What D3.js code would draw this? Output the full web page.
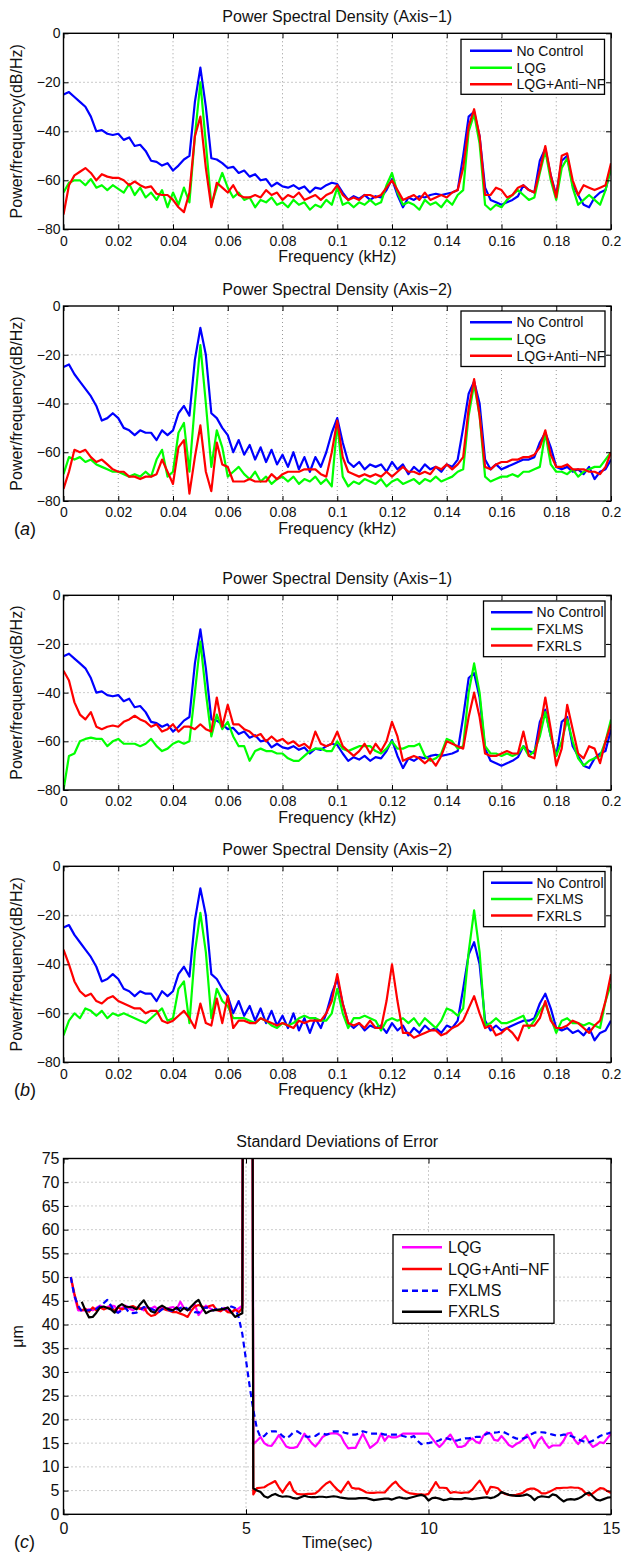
<!DOCTYPE html>
<html>
<head>
<meta charset="utf-8">
<script src="https://cdn.jsdelivr.net/npm/d3@7"></script>
<style>
  body { margin: 0; background: #fff; }
  svg { display: block; }
</style>
</head>
<body>
<svg id="fig" width="630" height="1555"></svg>
<script>
// ---------------------------------------------------------------
// Power spectral density estimates, dB/Hz, one value every 0.002 kHz
// from 0 to 0.2 kHz (101 bins)
// ---------------------------------------------------------------
const freqKHz = d3.range(0, 101).map(k => k * 0.002);

const noControlAxis1 = [
  -25, -24, -26, -28, -30, -34, -40, -39.5, -41, -41.5,
  -41, -43.5, -42.5, -46, -45.5, -48, -52, -52.5, -54, -53,
  -56, -54, -51.5, -50, -28, -14, -30, -51, -51.5, -53,
  -55, -54.5, -57, -56, -58.5, -57.5, -60, -59.5, -62.5, -61,
  -62.5, -63, -62, -63.5, -62.5, -65, -63, -63.5, -62, -61,
  -61.5, -65, -68, -66.5, -67.5, -66, -68, -66.5, -67, -64,
  -59.5, -66, -71, -67, -68, -66.5, -67, -66, -65.5, -66,
  -65.5, -65, -64, -50, -34, -32, -42, -63, -68, -69,
  -70, -69, -68, -66.5, -62, -64, -65, -52, -47, -58,
  -66, -52, -50, -62, -66, -70, -71, -67, -65, -64,
  -55
];
const lqgAxis1 = [
  -65, -61, -60, -60, -62, -59.5, -63, -62, -64, -62,
  -63.5, -65, -61.5, -66, -63, -67, -65, -68, -64, -71,
  -65, -70, -63, -69, -42, -20, -45, -70, -63, -57,
  -63, -67, -65, -68, -67, -71, -68, -69, -67, -70,
  -69, -71, -68, -70, -69, -72, -70, -71, -68, -70,
  -63, -70, -69, -71, -69, -70, -68, -70, -69, -62,
  -57, -65, -70, -69, -70, -72, -68, -70, -69, -71,
  -68, -70, -66, -64, -40, -33, -45, -70, -72, -70,
  -71, -68, -66, -64, -66, -68, -67, -57, -48, -60,
  -68, -55, -51, -63, -70, -68, -66, -68, -70, -64,
  -55
];
const lqgAntiNfAxis1 = [
  -74, -62, -58, -56.5, -55, -57, -60, -57.5, -58.5, -59,
  -59, -60, -62, -60.5, -62, -63, -62.5, -65.5, -66, -66,
  -68, -71, -73, -65, -42, -34, -55, -71, -61, -63,
  -65, -62, -66, -67, -67, -66, -67, -64, -66, -65,
  -68, -66, -67, -65, -68, -67, -66, -68, -66, -65,
  -62, -66, -68, -67, -68, -66, -66, -67, -66, -63,
  -60, -64, -68, -67, -66, -68, -65, -68, -67, -66,
  -67, -65, -64, -55, -38, -31, -42, -66, -66, -63,
  -64, -67, -66, -63, -62, -64, -65, -56, -46, -58,
  -67, -50, -49, -60, -66, -62, -63, -64, -63, -62,
  -53
];
const noControlAxis2 = [
  -25, -24, -28, -31, -34, -37, -41, -47, -46, -44,
  -46, -50, -51, -53, -51, -52, -52, -55, -51, -53,
  -51, -44, -41, -45, -22, -9, -20, -44, -46, -50,
  -53, -60, -55, -61, -57, -63, -58, -64, -59, -65,
  -61, -66, -60, -67, -62, -68, -62, -66, -60, -52,
  -46, -56, -64, -66, -64, -67, -65, -66, -65, -68,
  -64, -67, -65, -69, -66, -68, -65, -67, -66, -68,
  -65, -66, -63, -50, -36, -31, -40, -63, -67, -65,
  -67, -66, -65, -64, -63, -63, -62, -56, -52, -58,
  -66, -67, -66, -68, -67, -69, -66, -71, -68, -67,
  -63
];
const lqgAxis2 = [
  -69, -62, -63, -62, -64, -63, -65, -66, -67, -68,
  -68, -69, -70, -69, -70, -68, -70, -63, -59, -70,
  -68, -52, -48, -68, -40, -16, -40, -66, -51, -58,
  -70, -68, -66, -69, -71, -68, -72, -70, -73, -71,
  -70, -72, -70, -73, -71, -72, -70, -73, -71, -74,
  -48, -70, -74, -72, -73, -71, -72, -73, -71, -74,
  -72, -71, -73, -72, -71, -73, -71, -72, -70, -72,
  -71, -70, -68, -67, -45, -32, -45, -70, -72, -71,
  -70, -70, -69, -70, -68, -68, -67, -66, -52, -65,
  -68, -68, -69, -67, -70, -68, -67, -66, -66, -63,
  -60
];
const lqgAntiNfAxis2 = [
  -75, -68, -59, -60, -59, -62, -64, -63, -65, -67,
  -68, -68, -70, -70, -71, -70, -70, -69, -63, -68,
  -73, -58, -55, -77, -62, -49, -68, -76, -56, -65,
  -66, -72, -72, -72, -71, -72, -72, -72, -69, -71,
  -69, -68, -68, -68, -67, -67, -67, -69, -70, -60,
  -47, -62, -68, -69, -70, -69, -70, -69, -70, -68,
  -70, -68, -66, -68, -68, -69, -68, -69, -66, -67,
  -65, -67, -65, -62, -42, -30, -45, -66, -67, -65,
  -64, -64, -63, -63, -62, -62, -61, -58, -51, -61,
  -66, -66, -65, -67, -67, -67, -68, -68, -69, -66,
  -60
];
const fxlmsAxis1 = [
  -80, -66, -65, -60, -59, -58.5, -59, -59, -62, -60,
  -59, -61, -61, -61, -62, -61, -59, -62, -64, -63,
  -61, -60, -61, -60, -40, -19, -40, -58, -49, -55,
  -52, -58, -62, -62, -68, -64, -63, -64, -64, -65,
  -65, -67, -68, -68, -66, -64, -63, -63, -64, -64,
  -60, -63, -64, -63, -62, -62, -62, -64, -65, -63,
  -60, -63, -63, -62, -62, -61, -66, -68, -67, -65,
  -59, -60, -63, -62, -40, -28, -40, -62, -65, -65,
  -66, -65, -66, -65, -62, -66, -64, -58, -48, -58,
  -66, -60, -51, -60, -67, -70, -68, -67, -66, -60,
  -51
];
const fxrlsAxis1 = [
  -31, -35, -44, -49, -51, -48, -54, -55, -54, -53.5,
  -54, -52, -51, -49.5, -51, -52, -54, -53, -56, -55,
  -53, -56, -54, -54, -55, -53, -55, -56, -42, -54,
  -45, -53, -53, -55, -56, -58, -57, -60, -58, -60,
  -59, -61, -60, -62, -61, -63, -56, -61, -62, -61,
  -56, -62, -64, -66, -64, -61, -65, -61, -64, -60,
  -52, -58, -68, -67, -66, -67, -69, -67, -70, -66,
  -60, -61, -62, -63, -50, -40, -50, -65, -66, -66,
  -65, -64, -65, -65, -56, -66, -67, -55, -42, -55,
  -70, -63, -45, -55, -65, -67, -62, -63, -69, -60,
  -53
];
const fxlmsAxis2 = [
  -69, -63, -60, -62, -58, -59, -61, -59, -62, -60,
  -61, -60, -61, -62, -63, -64, -62, -60, -58, -63,
  -62, -50, -47, -64, -35, -19, -35, -62, -50, -55,
  -57, -62, -62, -62, -63, -64, -62, -63, -65, -66,
  -64, -65, -64, -62, -61, -62, -62, -63, -63, -60,
  -50, -60, -66, -62, -62, -61, -62, -63, -67, -63,
  -62, -63, -62, -64, -62, -65, -62, -64, -66, -63,
  -58, -59, -61, -58, -35, -18, -35, -65, -64, -62,
  -64, -64, -63, -62, -61, -66, -63, -59, -56, -62,
  -68, -63, -62, -64, -64, -65, -64, -65, -66, -55,
  -48
];
const fxrlsAxis2 = [
  -34, -40, -47, -51, -53, -52, -55, -56, -54, -53,
  -55, -56, -57, -58, -58, -60, -59, -59, -63, -64,
  -63, -61, -59, -62, -66, -56, -64, -65, -54, -64,
  -53, -66, -63, -63, -64, -64, -62, -63, -64, -65,
  -64, -65, -66, -63, -64, -63, -63, -63, -60, -55,
  -44, -56, -64, -65, -64, -66, -63, -66, -66, -55,
  -40, -55, -68, -68, -70, -69, -68, -67, -67, -69,
  -68, -66, -65, -63, -58, -53, -60, -66, -65, -69,
  -68, -66, -68, -71, -65, -65, -65, -62, -55, -63,
  -66, -66, -65, -63, -64, -66, -68, -65, -63, -55,
  -44
];

// ---------------------------------------------------------------
// Standard deviation of the tracking error, um, sampled every 0.1 s
// from 0.2 s to 15 s; the transient near 5 s runs far off the scale
// ---------------------------------------------------------------
const timeSec = d3.range(2, 151).map(k => k / 10);

const stdLqg = [
  50, 46, 43, 43, 43, 43.2, 43, 43.5, 44, 43.6,
  43.7, 44, 43.9, 42.5, 43.5, 44, 43.4, 43, 43.5, 43.5,
  43, 43.6, 43.4, 43.8, 43, 43.6, 43.2, 43.5, 43.7, 43.2,
  44.8, 43.5, 43, 43.8, 44.2, 42, 43, 44, 43.5, 43,
  43.2, 42.8, 43.5, 43, 42.6, 43, 43.4, 44, 400, 400,
  14.8, 15.5, 16.3, 15, 14.5, 14.4, 15.5, 16.7, 15.5, 14.3,
  14, 14, 14.2, 15.5, 17, 16, 15, 14.3, 15.2, 16.3,
  16.8, 17, 17.1, 17, 16.5, 15, 13.9, 14, 14, 15.5,
  17, 15.5, 14, 14.6, 15.2, 17, 15.5, 16.5, 16.2, 16.2,
  16.5, 17, 17, 17, 17, 17, 17, 17, 17, 16,
  15, 14.2, 15, 16, 16.8, 15.5, 14.2, 14.2, 14.5, 15.5,
  16, 15.3, 15, 16.5, 17.3, 17, 15.7, 15.5, 16.5, 15.6,
  14.6, 14.2, 14.8, 15.2, 15.8, 16.8, 15.5, 14, 15.5, 16.3,
  15, 14, 14.5, 14.5, 14.5, 15.5, 17, 17.2, 15.7, 14.8,
  15.8, 16.5, 15.2, 14.2, 14.6, 15.2, 15, 16, 17
];
const stdLqgAntiNf = [
  50, 46.5, 43.5, 43, 43.3, 42.7, 43.6, 43, 43.6, 43.2,
  43.5, 43.5, 43, 43.6, 43.2, 43.5, 43.7, 43.9, 43.5, 43.3,
  43.6, 42.4, 41.8, 42, 42.6, 43.4, 43.1, 42.9, 42.6, 42.6,
  42.3, 42, 41.6, 42.9, 43.8, 44.1, 43.8, 43.5, 43.9, 44.1,
  43, 42.8, 43.3, 42.6, 42.5, 43.2, 42.6, 43.5, 400, 400,
  4.2, 5.5, 5.6, 5.7, 6.2, 6.6, 7.0, 5.7, 4.6, 5.8,
  6.8, 5.0, 4.3, 4.2, 4.2, 4.3, 4.3, 4.4, 5.0, 5.8,
  6.5, 6.9, 6.0, 5.2, 4.6, 5.8, 6.9, 5.6, 5.4, 5.4,
  5.0, 4.6, 4.5, 4.5, 4.6, 4.6, 4.6, 5.5, 6.3, 6.9,
  5.9, 5.2, 4.7, 4.4, 4.3, 4.2, 4.2, 4.1, 4.3, 5.5,
  6.8, 5.6, 5.6, 5.5, 4.5, 4.7, 4.6, 4.5, 4.6, 4.6,
  5.2, 6.2, 7.1, 5.8, 4.3, 5.8, 5.7, 5.5, 4.7, 4.3,
  4.1, 4.0, 4.1, 4.3, 4.6, 5.2, 5.4, 5.4, 5.0, 4.4,
  4.4, 4.7, 5.1, 5.5, 5.5, 5.6, 5.6, 5.7, 5.6, 5.6,
  5.3, 4.5, 4.0, 4.4, 5.0, 5.5, 5.4, 4.9, 4.5
];
const stdFxlms = [
  50, 46, 44, 42.8, 43, 43, 43.2, 43.3, 43.8, 44.5,
  45.2, 44, 42.8, 42.5, 43, 43.5, 42.5, 42.4, 42.5, 43,
  43.7, 43.5, 43.3, 43, 42.6, 43.2, 43.5, 43, 42.8, 43.2,
  43.5, 43.8, 43.3, 43, 42.6, 42.5, 43.4, 43.6, 43.5, 43,
  43.3, 43.5, 43.2, 43.5, 43.8, 43.5, 41.5, 38, 32.5, 27,
  22, 18, 16.2, 16.5, 17.3, 17.5, 17.5, 17.3, 16.5, 16,
  16.5, 17.3, 17.5, 17, 16.5, 16.3, 16.5, 16.5, 17, 17,
  16.8, 17, 17.5, 17.5, 17.5, 17.2, 17, 16.8, 16.8, 17,
  17.5, 17.3, 17, 17, 17, 17, 16.8, 16.8, 16.8, 16.8,
  16.8, 16.5, 16.3, 16.2, 16.5, 15.5, 14.8, 15, 15, 15.2,
  15.3, 15.6, 16, 16, 15.8, 15.5, 15.6, 15.8, 16, 16,
  16.2, 16.3, 16.3, 16.6, 17, 17.2, 17.2, 17.3, 17.5, 17.2,
  16.8, 16.3, 16, 15.8, 16, 16.3, 16.8, 17.2, 17.3, 17.3,
  17.2, 17, 16.8, 16.6, 16.6, 16.8, 16.8, 16.5, 16.2, 15.8,
  15.5, 15.2, 15.2, 15.5, 16, 16.5, 16.8, 17, 17.3
];
const stdFxrls = [
  null, null, null, 44.8, 43, 41.5, 41.6, 42.5, 43.6, 43.8,
  43.5, 43.2, 42.5, 43.8, 44.3, 43.8, 43.7, 43.6, 43.2, 44.3,
  45.1, 43.8, 42.8, 42.5, 43.5, 44, 43.5, 43.2, 43, 43.6,
  42.8, 43.5, 43, 43.8, 44.6, 45.2, 43.6, 42.4, 42.8, 43,
  43.1, 43.2, 43.3, 43.6, 42.6, 41.6, 42, 42.4, 400, 400,
  5.5, 5.0, 4.7, 3.8, 3.5, 4.0, 4.3, 3.9, 3.7, 3.8,
  3.7, 3.4, 3.3, 3.6, 3.9, 3.7, 3.6, 3.6, 3.7, 3.7,
  3.6, 3.7, 3.8, 3.7, 3.5, 3.4, 3.3, 3.3, 3.3, 3.4,
  3.4, 3.4, 3.2, 3.0, 3.1, 3.2, 3.3, 3.3, 3.1, 3.4,
  3.6, 3.4, 3.3, 3.5, 3.7, 3.9, 4.1, 3.8, 2.9, 3.4,
  3.5, 3.3, 3.0, 3.1, 3.3, 3.2, 3.2, 3.2, 3.4, 3.3,
  3.2, 3.3, 3.4, 3.5, 3.6, 3.4, 3.6, 4.0, 4.7, 4.4,
  4.1, 4.0, 3.9, 3.9, 4.0, 4.2, 3.8, 3.0, 3.6, 3.8,
  3.7, 3.6, 4.2, 4.0, 3.3, 2.7, 3.1, 3.2, 3.1, 3.3,
  3.7, 4.3, 4.6, 3.8, 3.1, 2.9, 3.2, 3.5, 3.6
];

// Ticks and labels
const freqTicks = [0, 0.02, 0.04, 0.06, 0.08, 0.1, 0.12, 0.14, 0.16, 0.18, 0.2];
const freqTickLabels = ["0", "0.02", "0.04", "0.06", "0.08", "0.1", "0.12", "0.14", "0.16", "0.18", "0.2"];
const psdTicks = [0, -20, -40, -60, -80];
const psdTickLabels = ["0", "\u221220", "\u221240", "\u221260", "\u221280"];
const timeTicks = [0, 5, 10, 15];
const timeTickLabels = ["0", "5", "10", "15"];
const stdTicks = [0, 5, 10, 15, 20, 25, 30, 35, 40, 45, 50, 55, 60, 65, 70, 75];
const stdTickLabels = stdTicks.map(String);

// ---------------------------------------------------------------
// Drawing
// ---------------------------------------------------------------
const FONT = "'Liberation Sans', Arial, Helvetica, sans-serif";
const INK = "#111";
const svg = d3.select("#fig");
const X0 = 63.5, X1 = 611;

function drawPanel(p) {
  const x = d3.scaleLinear().domain(p.xDomain).range([X0, X1]);
  const y = d3.scaleLinear().domain(p.yDomain).range([p.bottom, p.top]);
  const g = svg.append("g");

  g.append("clipPath").attr("id", "clip-" + p.id)
    .append("rect").attr("x", X0).attr("y", p.top)
    .attr("width", X1 - X0).attr("height", p.bottom - p.top);

  // dotted grid
  const inX = p.xTicks.filter(t => t > p.xDomain[0] && t < p.xDomain[1]);
  const inY = p.yTicks.filter(t => t > p.yDomain[0] && t < p.yDomain[1]);
  const grid = g.append("g")
    .attr("stroke", "#8c8c8c").attr("stroke-width", 0.9).attr("stroke-dasharray", "1,3");
  grid.selectAll("line.gx").data(inX).join("line").attr("class", "gx")
    .attr("x1", d => x(d)).attr("x2", d => x(d)).attr("y1", p.top).attr("y2", p.bottom);
  grid.selectAll("line.gy").data(inY).join("line").attr("class", "gy")
    .attr("x1", X0).attr("x2", X1).attr("y1", d => y(d)).attr("y2", d => y(d));

  // data
  const plot = g.append("g").attr("clip-path", `url(#clip-${p.id})`);
  p.series.forEach(s => {
    const line = d3.line()
      .defined(v => v != null)
      .x((v, i) => x(p.xValues[i]))
      .y(v => y(v));
    plot.append("path").datum(s.values)
      .attr("d", line)
      .attr("fill", "none")
      .attr("stroke", s.color)
      .attr("stroke-width", 2.2)
      .attr("stroke-linejoin", "round")
      .attr("stroke-dasharray", s.dash || null);
  });

  // axes with inward ticks on all four sides
  const styleAxis = (a, fs) => {
    a.select(".domain").remove();
    a.attr("font-family", FONT).attr("font-size", fs);
    a.selectAll("line").attr("stroke", "#000");
    a.selectAll("text").attr("fill", INK);
  };
  g.append("g").attr("transform", `translate(0,${p.bottom})`)
    .call(d3.axisBottom(x).tickValues(p.xTicks).tickFormat((d, i) => p.xLabels[i])
      .tickSize(-5).tickSizeOuter(0).tickPadding(p.xPad))
    .call(a => styleAxis(a, p.tickFs));
  g.append("g").attr("transform", `translate(0,${p.top})`)
    .call(d3.axisTop(x).tickValues(p.xTicks).tickFormat("").tickSize(-5).tickSizeOuter(0))
    .call(a => styleAxis(a, p.tickFs));
  g.append("g").attr("transform", `translate(${X0},0)`)
    .call(d3.axisLeft(y).tickValues(p.yTicks).tickFormat((d, i) => p.yLabels[i])
      .tickSize(-5).tickSizeOuter(0).tickPadding(p.yPad))
    .call(a => styleAxis(a, p.tickFs));
  g.append("g").attr("transform", `translate(${X1},0)`)
    .call(d3.axisRight(y).tickValues(p.yTicks).tickFormat("").tickSize(-5).tickSizeOuter(0))
    .call(a => styleAxis(a, p.tickFs));

  g.append("rect")
    .attr("x", X0).attr("y", p.top)
    .attr("width", X1 - X0).attr("height", p.bottom - p.top)
    .attr("fill", "none").attr("stroke", "#000").attr("stroke-width", 1.4);

  // title and axis labels
  g.append("text")
    .attr("x", (X0 + X1) / 2).attr("y", p.top - 11.5)
    .attr("text-anchor", "middle").attr("font-family", FONT).attr("font-size", 16)
    .attr("fill", INK).text(p.title);
  g.append("text")
    .attr("x", (X0 + X1) / 2).attr("y", p.bottom + p.xLabelDy)
    .attr("text-anchor", "middle").attr("font-family", FONT).attr("font-size", 16)
    .attr("fill", INK).text(p.xTitle);
  g.append("text")
    .attr("transform", `translate(${p.yTitleX},${(p.top + p.bottom) / 2}) rotate(-90)`)
    .attr("text-anchor", "middle").attr("font-family", FONT).attr("font-size", 16)
    .attr("fill", INK).text(p.yTitle);

  // legend
  const L = p.legend;
  const lg = g.append("g");
  lg.append("rect")
    .attr("x", L.x0).attr("y", L.y0).attr("width", L.x1 - L.x0).attr("height", L.y1 - L.y0)
    .attr("fill", "#fff").attr("stroke", "#000").attr("stroke-width", 1.3);
  p.series.forEach((s, i) => {
    const ry = L.rows[i];
    lg.append("line")
      .attr("x1", L.lineX0).attr("x2", L.lineX1).attr("y1", ry).attr("y2", ry)
      .attr("stroke", s.color).attr("stroke-width", 2.5)
      .attr("stroke-dasharray", s.dash || null);
    lg.append("text")
      .attr("x", L.textX).attr("y", ry + L.fs * 0.36)
      .attr("font-family", FONT).attr("font-size", L.fs).attr("fill", INK)
      .text(s.name);
  });
}

const BLUE = "#0000ff", GREEN = "#00ff00", RED = "#ff0000", MAGENTA = "#ff00ff", BLACK = "#000000";
const psdCommon = {
  xDomain: [0, 0.2], yDomain: [-80, 0], xValues: freqKHz,
  xTicks: freqTicks, xLabels: freqTickLabels, yTicks: psdTicks, yLabels: psdTickLabels,
  tickFs: 14, xPad: 6.5, yPad: 3, xLabelDy: 32.5,
  xTitle: "Frequency (kHz)", yTitle: "Power/frequency(dB/Hz)", yTitleX: 22
};

drawPanel(Object.assign({}, psdCommon, {
  id: "a1", top: 33.3, bottom: 229.3, title: "Power Spectral Density (Axis\u22121)",
  series: [
    { name: "No Control", values: noControlAxis1, color: BLUE },
    { name: "LQG", values: lqgAxis1, color: GREEN },
    { name: "LQG+Anti\u2212NF", values: lqgAntiNfAxis1, color: RED }
  ],
  legend: { x0: 461, x1: 604.5, y0: 39.3, y1: 94.3, rows: [50.7, 67.7, 84.2], lineX0: 470, lineX1: 512, textX: 516.5, fs: 14 }
}));

drawPanel(Object.assign({}, psdCommon, {
  id: "a2", top: 306, bottom: 501, title: "Power Spectral Density (Axis\u22122)",
  series: [
    { name: "No Control", values: noControlAxis2, color: BLUE },
    { name: "LQG", values: lqgAxis2, color: GREEN },
    { name: "LQG+Anti\u2212NF", values: lqgAntiNfAxis2, color: RED }
  ],
  legend: { x0: 461, x1: 605, y0: 311, y1: 366.5, rows: [322.3, 339, 355.8], lineX0: 470, lineX1: 512, textX: 516.5, fs: 14 }
}));

drawPanel(Object.assign({}, psdCommon, {
  id: "b1", top: 595.3, bottom: 790, title: "Power Spectral Density (Axis\u22121)",
  series: [
    { name: "No Control", values: noControlAxis1, color: BLUE },
    { name: "FXLMS", values: fxlmsAxis1, color: GREEN },
    { name: "FXRLS", values: fxrlsAxis1, color: RED }
  ],
  legend: { x0: 483.5, x1: 605, y0: 601, y1: 656.7, rows: [612.3, 629, 645.5], lineX0: 491, lineX1: 532.5, textX: 536.6, fs: 14 }
}));

drawPanel(Object.assign({}, psdCommon, {
  id: "b2", top: 866.3, bottom: 1062.3, title: "Power Spectral Density (Axis\u22122)",
  series: [
    { name: "No Control", values: noControlAxis2, color: BLUE },
    { name: "FXLMS", values: fxlmsAxis2, color: GREEN },
    { name: "FXRLS", values: fxrlsAxis2, color: RED }
  ],
  legend: { x0: 483.5, x1: 605, y0: 871.5, y1: 926.7, rows: [882.7, 899, 915.5], lineX0: 491, lineX1: 532.5, textX: 536.6, fs: 14 }
}));

drawPanel({
  id: "c", top: 1158.5, bottom: 1514.3, xDomain: [0, 15], yDomain: [0, 75], xValues: timeSec,
  xTicks: timeTicks, xLabels: timeTickLabels, yTicks: stdTicks, yLabels: stdTickLabels,
  tickFs: 16, xPad: 8, yPad: 4, xLabelDy: 34,
  title: "Standard Deviations of Error", xTitle: "Time(sec)", yTitle: "\u03bcm", yTitleX: 23,
  series: [
    { name: "LQG", values: stdLqg, color: MAGENTA },
    { name: "LQG+Anti\u2212NF", values: stdLqgAntiNf, color: RED },
    { name: "FXLMS", values: stdFxlms, color: BLUE, dash: "6,4" },
    { name: "FXRLS", values: stdFxrls, color: BLACK }
  ],
  legend: { x0: 393, x1: 554, y0: 1234.7, y1: 1323.3, rows: [1247.3, 1269, 1290.7, 1311.7], lineX0: 402, lineX1: 442, textX: 448, fs: 16 }
});

// sub-figure tags
[["a", 534.5], ["b", 1096.2], ["c", 1548]].forEach(([tag, yb]) => {
  const t = svg.append("text").attr("x", 14).attr("y", yb)
    .attr("font-family", FONT).attr("font-size", 18).attr("fill", INK);
  t.append("tspan").text("(");
  t.append("tspan").attr("font-style", "italic").text(tag);
  t.append("tspan").text(")");
});
</script>
</body>
</html>
